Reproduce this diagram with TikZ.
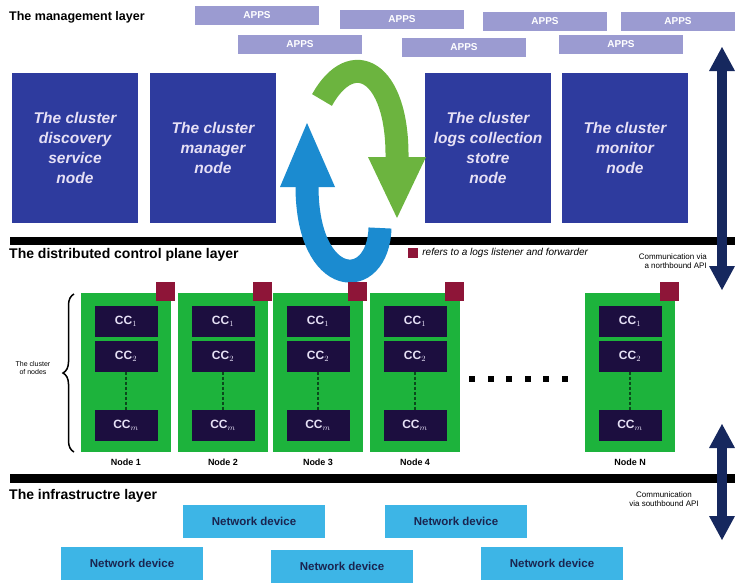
\documentclass[tikz,border=0pt]{standalone}
\usepackage{fontspec}
\setmainfont{Liberation Sans}
\usetikzlibrary{arrows.meta, positioning, decorations.pathreplacing}
\usepackage{xcolor}
\definecolor{AppsLavender}{HTML}{9B9BD1}
\definecolor{ClusterBlue}{HTML}{2E3B9E}
\definecolor{NodeGreen}{HTML}{1DB33C}
\definecolor{CcPurple}{HTML}{1C0E3F}
\definecolor{CcText}{HTML}{E6E0F5}
\definecolor{LogMaroon}{HTML}{8E1538}
\definecolor{NetBlue}{HTML}{3DB5E6}
\definecolor{NetText}{HTML}{1A2550}
\definecolor{ApiNavy}{HTML}{16285E}
\definecolor{LoopGreen}{HTML}{6CB43F}
\definecolor{LoopBlue}{HTML}{1B8BD0}
\definecolor{DashGreen}{HTML}{0B4A1C}
\tikzset{
    % Box styles
    appsbox/.style={
        rectangle,
        fill=AppsLavender,
        minimum width=124pt,
        minimum height=19pt,
        inner sep=0pt,
        text=white,
        font=\bfseries\fontsize{10}{12}\selectfont
    },
    clusterbox/.style={
        rectangle,
        fill=ClusterBlue,
        minimum width=126pt,
        minimum height=150pt,
        inner sep=0pt,
        align=center,
        text=CcText,
        font=\bfseries\itshape\fontsize{15.5}{20}\selectfont
    },
    greennode/.style={
        rectangle,
        fill=NodeGreen,
        minimum width=90pt,
        minimum height=159pt,
        inner sep=0pt
    },
    ccbox/.style={
        rectangle,
        fill=CcPurple,
        minimum width=63pt,
        minimum height=31pt,
        inner sep=0pt,
        text=CcText,
        font=\bfseries\fontsize{12}{14}\selectfont
    },
    logsquare/.style={
        rectangle,
        fill=LogMaroon,
        minimum size=19pt,
        inner sep=0pt
    },
    netdevice/.style={
        rectangle,
        fill=NetBlue,
        minimum width=142pt,
        minimum height=33pt,
        inner sep=0pt,
        text=NetText,
        font=\bfseries\fontsize{11.5}{13}\selectfont
    },
    layertitle/.style={
        anchor=west,
        inner sep=0pt,
        font=\bfseries\fontsize{14}{16}\selectfont
    },
    smalltext/.style={
        inner sep=0pt,
        font=\fontsize{8}{9.5}\selectfont
    },
    % Arrow styles
    apiarrow/.style={
        {Triangle[width=26pt,length=24pt,line width=0pt]}-{Triangle[width=26pt,length=24pt,line width=0pt]},
        line width=10pt,
        draw=ApiNavy
    },
    dashedlink/.style={
        line width=1.5pt,
        draw=DashGreen,
        dash pattern=on 3pt off 2pt
    }
}

\begin{document}
\begin{tikzpicture}[x=1pt, y=-1pt]
    \useasboundingbox (0,0) rectangle (735,584);

    % management layer
    \node[layertitle, font=\bfseries\fontsize{12.5}{14}\selectfont] (mgmt) at (9,17) {The management layer};
    \node[appsbox] (app1) at (257,15) {APPS};
    \node[appsbox] (app2) at (402,19) {APPS};
    \node[appsbox] (app3) at (545,21) {APPS};
    \node[appsbox, minimum width=114pt] (app4) at (678,21) {APPS};
    \node[appsbox] (app5) at (300,44) {APPS};
    \node[appsbox] (app6) at (464,47) {APPS};
    \node[appsbox] (app7) at (621,44) {APPS};

    \node[clusterbox] (discovery) at (75,148) {The cluster\\discovery\\service\\node};
    \node[clusterbox] (manager) at (213,148) {The cluster\\manager\\node};
    \node[clusterbox] (logstore) at (488,148) {The cluster\\logs collection\\stotre\\node};
    \node[clusterbox] (monitor) at (625,148) {The cluster\\monitor\\node};

    % layer separators
    \fill (10,237) rectangle (735,245);
    \fill (10,474) rectangle (735,483);

    % the two loop arrows
    \draw[LoopGreen, line width=23pt] (322,100) .. controls (352,46) and (398,70) .. (397,158);
    \fill[LoopGreen] (368,157) -- (426,157) -- (397,218) -- cycle;
    \draw[LoopBlue, line width=23pt] (380,228) .. controls (378,292) and (307,290) .. (307,186);
    \fill[LoopBlue] (280,187) -- (335,187) -- (307,123) -- cycle;

    % distributed control plane layer
    \node[layertitle] (ctrl) at (9,255) {The distributed control plane layer};
    \node[logsquare, minimum size=10pt] (legendsq) at (413,253) {};
    \node[anchor=west, inner sep=0pt, font=\itshape\fontsize{10}{12}\selectfont, right=4pt of legendsq] (legend) {refers to a logs listener and forwarder};

    \foreach \i/\x/\lbl in {1/126/Node 1, 2/223/Node 2, 3/318/Node 3, 4/415/Node 4, 5/630/Node N} {
        \node[greennode] (node\i) at (\x,372.5) {};
        \node[logsquare] (log\i) at (\x+39,291) {};
        \node[ccbox] (cca\i) at (\x,321) {CC$_1$};
        \node[ccbox] (ccb\i) at (\x,356) {CC$_2$};
        \node[ccbox] (ccm\i) at (\x,425.5) {CC$_m$};
        \draw[dashedlink] (ccb\i) -- (ccm\i);
        \node[smalltext, font=\bfseries\fontsize{9}{11}\selectfont] (name\i) at (\x,462) {\lbl};
    }

    \foreach \x in {472,490.5,509,527.5,546,564.5}
        \fill (\x-3,376) rectangle (\x+3,382);

    \draw[line width=1.5pt, decorate, decoration={brace, amplitude=11pt}] (74,452) -- (74,294);
    \node[smalltext, align=center, font=\fontsize{7}{8.5}\selectfont] (clusterlbl) at (33,368) {The cluster\\of nodes};

    % communication arrows
    \coordinate (nbtop) at (722,47);
    \coordinate (nbbot) at (722,290);
    \coordinate (sbtop) at (722,424);
    \coordinate (sbbot) at (722,540);
    \draw[apiarrow] (nbtop) -- (nbbot);
    \draw[apiarrow] (sbtop) -- (sbbot);
    \node[smalltext, anchor=east, align=right] (north) at (707,261) {Communication via\\a northbound API};
    \node[smalltext, align=center] (south) at (664,499) {Communication\\via southbound API};

    % infrastructure layer
    \node[layertitle] (infra) at (9,496) {The infrastructre layer};
    \node[netdevice] (dev1) at (254,521) {Network device};
    \node[netdevice] (dev2) at (456,521) {Network device};
    \node[netdevice] (dev3) at (132,563) {Network device};
    \node[netdevice] (dev4) at (342,566) {Network device};
    \node[netdevice] (dev5) at (552,563) {Network device};
\end{tikzpicture}
\end{document}
